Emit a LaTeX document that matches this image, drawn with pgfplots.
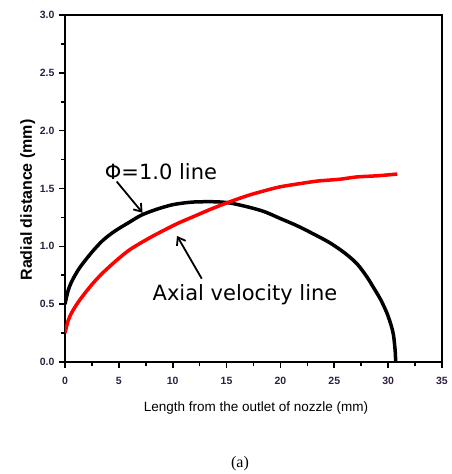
\documentclass[border=0pt]{standalone}
\usepackage{fontspec}
\setmainfont{Liberation Sans}
\newfontfamily\dejavu{DejaVu Sans}
\newfontfamily\seriffont{Liberation Serif}
\usepackage{pgfplots}
\pgfplotsset{compat=1.18}
\usetikzlibrary{arrows.meta}
\definecolor{ticktxt}{rgb}{0.18,0.13,0.25}
\begin{document}
\begin{tikzpicture}
\begin{axis}[
  at={(0,0)}, anchor=south west,
  scale only axis, width=377pt, height=347pt,
  xmin=0, xmax=35, ymin=0, ymax=3,
  xtick={0,5,...,35}, ytick={0,0.5,...,3},
  minor x tick num=1, minor y tick num=1,
  tick pos=left, tick align=outside,
  major tick length=5.5pt, minor tick length=4pt,
  every tick/.style={line width=1.6pt, black},
  axis line style={line width=1.8pt},
  /pgf/number format/assume math mode=true,
  yticklabel style={/pgf/number format/fixed, /pgf/number format/fixed zerofill, /pgf/number format/precision=1, font=\fontsize{10.5}{12}\selectfont\bfseries, text=ticktxt, xshift=-1.5pt},
  xticklabel style={font=\fontsize{10.5}{12}\selectfont\bfseries, text=ticktxt, yshift=-6pt},
  xlabel={Length from the outlet of nozzle (mm)},
  ylabel={Radial distance (mm)},
  xlabel style={at={([xshift=2.5pt,yshift=-49pt]axis description cs:0.5,0)}, anchor=base, font=\fontsize{13.5}{16}\selectfont},
  ylabel style={at={([xshift=-33pt,yshift=-11.5pt]axis description cs:0,0.5)}, anchor=base, rotate=0, font=\fontsize{16}{19}\selectfont\bfseries},
]
\addplot[black, line width=3.5pt, line join=round, smooth, tension=0.5] coordinates {
(0,0.50) (0.3,0.62) (0.7,0.71) (1.4,0.82) (2.5,0.95) (3.5,1.05) (4.6,1.13) (6,1.21) (7.1,1.27) (8.5,1.32) (10,1.36) (11.5,1.38) (12.5,1.385) (14,1.385) (15.3,1.375) (17,1.34) (18.5,1.30) (20,1.24) (21.5,1.18) (23,1.11) (24.6,1.03) (26,0.94) (27.1,0.85) (28,0.74) (28.6,0.65) (29.3,0.54) (29.9,0.42) (30.3,0.31) (30.5,0.23) (30.65,0.10) (30.7,0)
};
\addplot[red, line width=3.5pt, line join=round, smooth, tension=0.5] coordinates {
(0,0.25) (0.3,0.36) (0.7,0.44) (1.4,0.54) (2.5,0.67) (3.5,0.77) (4.8,0.88) (6,0.97) (7.6,1.06) (9,1.13) (10.5,1.20) (12,1.26) (13.5,1.32) (15.3,1.385) (17,1.44) (18.5,1.48) (20,1.515) (22,1.545) (23.5,1.565) (25.5,1.58) (27.1,1.60) (29,1.61) (30.85,1.625)
};
\node[anchor=base, font=\dejavu\fontsize{21}{24}\selectfont] at (axis cs:8.91,1.58) {Φ=1.0 line};
\node[anchor=base, font=\dejavu\fontsize{21}{24}\selectfont] at (axis cs:16.71,0.536) {Axial velocity line};
\draw[line width=1.8pt, -{Straight Barb[length=7pt,width=10pt]}] (axis cs:4.8,1.56) -- (axis cs:7.2,1.29);
\draw[line width=1.8pt, -{Straight Barb[length=7pt,width=10pt]}] (axis cs:12.7,0.72) -- (axis cs:10.4,1.09);
\end{axis}
\node[anchor=base, font=\seriffont\fontsize{16}{19}\selectfont] at (175pt,-105pt) {(a)};
\pgfresetboundingbox
\path (-65pt,-112pt) rectangle (386pt,362pt);
\end{tikzpicture}
\end{document}
